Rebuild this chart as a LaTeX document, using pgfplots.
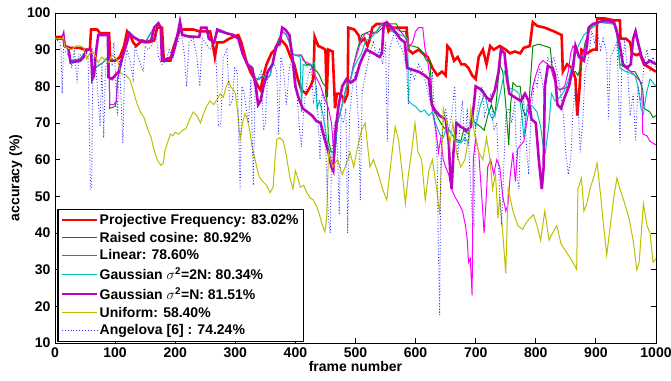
\documentclass[border=0pt]{standalone}
\usepackage{pgfplots}
\pgfplotsset{compat=1.18}
\usepackage{fontspec}
\setmainfont{Liberation Sans}

\definecolor{cRed}{rgb}{1,0,0}
\definecolor{cGreen}{rgb}{0,0.55,0}
\definecolor{cMag}{rgb}{1,0,1}
\definecolor{cCyan}{rgb}{0,0.75,0.75}
\definecolor{cPurp}{rgb}{0.75,0,0.75}
\definecolor{cYel}{rgb}{0.75,0.75,0}
\definecolor{cBlue}{rgb}{0,0,1}

\newcommand{\bigbf}{\bfseries\fontsize{14bp}{16bp}\selectfont}

\begin{document}
\begin{tikzpicture}
\begin{axis}[
  name=ax,
  scale only axis,
  width=601bp, height=330bp,
  xmin=0, xmax=1000, ymin=10, ymax=100,
  xtick={0,100,...,1000}, ytick={10,20,...,100},
  tick align=inside,
  major tick length=5bp,
  axis line style={line width=0.9bp},
  every tick/.style={black, line width=0.9bp},
  /pgf/number format/assume math mode=true,
  /pgf/number format/set thousands separator={},
  ticklabel style={font=\bigbf},
  xticklabel style={yshift=-1bp},
  yticklabel style={xshift=-1bp},
  xlabel={frame number}, ylabel={accuracy (\%)},
  label style={font=\bigbf},
  xlabel style={yshift=3bp},
  ylabel style={yshift=-2bp},
  legend cell align=left,
  legend style={at={(0.004,0.003)}, anchor=south west, draw=black,
    line width=1.1bp, fill=white, font=\bigbf, inner xsep=3bp, inner ysep=3bp,
    row sep=2.2bp},
  legend image code/.code={\draw[#1] (0bp,0bp) -- (35bp,0bp);},
]

% Projective Frequency
\addplot[cRed, line width=2.6bp, forget plot] coordinates {
(0,93.5) (14,93.5) (16,91) (25,90.5) (40,90.5) (50,90) (58,90) (60,95.5) (70,95.5) (75,94.5) (90,94.5)
(92,87) (100,87) (108,88) (115,91) (120,95) (125,94) (130,92) (135,91) (145,92.5) (155,92) (165,92.5)
(170,96) (178,96) (181,87) (192,87) (196,90) (202,93) (208,95.5) (230,95.5) (240,95) (258,95) (262,92)
(266,88) (270,92) (280,92) (290,93) (297,93.5) (305,94) (310,92) (318,87) (325,84) (332,82) (338,80)
(342,79) (347,83) (352,86) (360,89) (366,90) (374,93) (380,92) (385,91) (392,88) (398,86) (404,82)
(410,79) (418,78) (425,80) (430,82) (432,93.5) (438,91) (445,90.5) (450,90) (452,77) (455,90) (462,89.5)
(466,74) (469,78) (475,78) (482,76) (487,78) (488,96) (498,95.5) (505,94) (508,92) (515,93) (520,91)
(524,93) (528,96) (535,97) (552,97) (555,95) (560,96) (570,96) (585,96) (588,90) (595,89) (605,90)
(612,89) (620,88) (628,85) (636,83) (644,84) (650,83) (653,91) (658,90) (664,87) (670,88) (676,86)
(682,86) (688,85) (694,83) (700,82) (705,88) (712,90) (718,86) (724,91) (730,90) (740,91) (750,90)
(757,89) (765,89.5) (774,89) (780,90.5) (790,91) (795,97.5) (802,96.5) (815,96) (830,95) (843,94)
(845,84) (852,86) (860,85) (866,82) (869,72) (873,80) (876,90) (885,89) (895,90) (901,90) (902,98.5)
(915,98.5) (930,98) (940,98) (941,93) (950,93) (957,92) (960,89) (968,88.5) (973,89) (980,86)
(990,85) (1000,84)
};

% Raised cosine
\addplot[cGreen, line width=1bp, forget plot] coordinates {
(0,93) (12,93) (14,94) (16,91) (22,90.5) (26,87) (42,87.5) (53,90) (60,90) (62,82) (66,85) (80,86.5)
(88,88) (90,88) (91,74) (100,74.5) (102,76) (104,82) (110,86) (118,91) (124,94.5) (130,93.5) (150,92)
(165,96) (172,97) (176,96) (178,87) (195,88) (205,95) (208,97) (212,94) (240,93.5) (243,96) (252,96)
(256,93) (265,92) (270,95) (297,94) (305,93) (312,89) (320,86) (328,84.5) (334,82) (340,82) (346,83)
(352,82) (358,83) (364,88) (370,91) (378,95) (385,94) (390,92) (394,89) (400,88.5) (410,88.5)
(418,86) (425,86) (430,85) (436,84) (440,83) (445,81) (450,80) (453,75) (455,65) (460,62) (466,62)
(470,70) (478,75) (485,80) (492,82) (497,86) (503,90) (510,94) (517,94.5) (524,95) (535,94.5)
(545,96) (555,97) (568,97) (575,95) (583,95) (587,91) (595,91) (605,90.5) (612,89) (618,87) (624,87)
(628,74) (635,72) (642,70) (648,68.5) (652,69) (660,67) (668,65.5) (675,65) (680,68) (688,67)
(692,71) (700,70) (708,69) (714,68) (720,72) (726,75) (732,72) (740,86) (745,84) (750,75) (755,64)
(758,75) (762,81) (768,80) (774,80) (778,74) (782,72) (788,74) (795,91) (805,91.5) (815,91)
(824,90.5) (828,84) (834,80) (840,79) (848,79.5) (856,80) (860,84) (866,84) (870,83) (876,86)
(882,92) (890,95.5) (905,97.5) (930,97) (935,94) (940,86) (950,85) (958,84) (965,84) (972,82)
(978,79) (980,74) (990,73) (995,71.5) (1000,72)
};

% Linear
\addplot[cMag, line width=1bp, forget plot] coordinates {
(0,93) (12,93) (14,94) (16,91) (22,90.5) (26,87) (42,87.5) (53,90) (60,90) (62,82) (66,85) (80,86.5)
(88,88) (90,88) (91,75) (98,75) (102,76) (104,82) (110,86) (118,91) (124,94.5) (130,93.5) (150,92)
(165,96) (172,97) (176,96) (178,87) (195,88) (205,95) (208,97) (212,94) (240,93.5) (243,96) (252,96)
(256,93) (265,92) (270,95) (297,94) (305,93) (312,89) (320,86) (328,84.5) (334,82) (340,82) (346,83)
(352,82) (358,83) (364,88) (370,91) (378,95) (385,94) (390,92) (394,89) (400,88.5) (410,88.5)
(413,87) (425,86) (430,84) (436,82) (442,80) (448,77) (455,74) (460,70) (463,64) (466,62) (470,70)
(478,75) (485,80) (492,82) (497,86) (503,89) (510,93) (517,94.5) (525,94) (535,95) (545,97) (555,97)
(565,96) (575,95) (580,94) (587,92) (590,91) (595,92) (600,95) (605,96) (612,96) (615,91) (620,87)
(624,82) (628,73) (634,68) (638,62) (642,66) (646,60) (650,58) (655,56) (660,52) (665,50) (672,48)
(678,46) (683,42) (686,38) (688,32) (691,33) (694,23) (696,60) (700,66) (705,62) (710,50) (714,40)
(717,48) (720,58) (725,60) (730,56) (735,60) (740,58) (745,50) (750,46) (754,48) (757,55) (762,62)
(766,54) (770,63) (775,64) (780,65) (785,70) (790,75) (795,80) (800,83) (806,86) (812,87) (820,86)
(825,85) (830,82) (835,80) (840,79) (848,80) (854,84) (858,89) (862,91) (866,90) (872,88) (880,89)
(888,96) (895,97) (905,97.5) (930,97.5) (935,95) (940,91) (945,86) (952,85) (958,84) (965,83)
(970,82) (976,81) (978,67) (985,66.5) (990,65) (1000,64)
};

% Gaussian, sigma^2 = 2N
\addplot[cCyan, line width=1bp, forget plot] coordinates {
(0,93) (12,93) (14,94) (16,91) (22,90.5) (26,87) (42,87.5) (53,90) (60,90) (62,82) (66,85) (80,86.5)
(88,88) (89,82.5) (95,82) (106,84) (112,88) (118,91) (124,94.5) (130,93.5) (150,92) (165,96)
(172,97) (176,96) (178,87) (195,88) (205,95) (208,97) (212,94) (240,93.5) (243,96) (252,96) (256,93)
(265,92) (270,95) (297,94) (305,93) (312,89) (320,86) (328,84.5) (334,82) (340,82) (346,83) (352,82)
(358,83) (364,88) (370,91) (378,95) (385,94) (390,92) (394,89) (400,88.5) (408,88) (410,73)
(413,86) (420,85.5) (428,86) (432,86.5) (436,74) (440,76) (445,73) (450,68) (455,63) (460,62)
(466,62) (470,70) (478,75) (485,80) (492,82) (497,85) (503,87) (510,89) (517,92.5) (525,93) (535,95)
(543,97) (555,97) (560,95) (575,94) (583,93.5) (587,93) (588,76) (595,75) (600,74.5) (608,73)
(615,73.5) (622,72) (628,73) (633,70) (640,67) (646,66) (652,69) (660,67) (668,65) (675,64.5)
(682,66) (688,64.5) (692,71) (696,71.5) (700,69) (708,75) (715,78) (722,73) (728,71) (735,74)
(742,79) (748,84) (752,85) (756,79.5) (765,79) (772,78) (777,72) (780,66) (786,75) (795,74.5)
(802,73) (808,69) (812,64) (816,62) (822,70) (826,78) (832,76) (840,77) (848,79) (855,82) (862,87)
(868,90) (873,91.8) (880,94) (890,95.5) (905,97.5) (930,97) (935,94) (940,85) (950,84) (958,83.5)
(965,83) (970,80) (975,74) (979,72.5) (984,78) (990,82) (1000,80)
};

% Gaussian, sigma^2 = N
\addplot[cPurp, line width=2.6bp, forget plot] coordinates {
(0,93) (12,93) (14,94) (16,91) (22,90.5) (26,86.5) (42,87) (48,88) (53,90) (60,90) (62,82) (65,83)
(68,89) (72,94) (88,94) (89,82.5) (95,82) (100,83) (106,84) (112,88) (118,91) (124,94.5) (130,93.5)
(140,92.5) (150,92) (160,92.5) (165,96) (172,97.2) (176,96) (178,87) (195,88) (200,91) (205,95)
(208,97.6) (212,94) (225,93.5) (240,93.5) (243,96) (252,96) (256,93) (265,92) (270,95.5) (285,94.5)
(297,94) (305,93) (312,89) (320,86) (328,85) (334,80) (338,75) (342,76) (347,80) (354,84) (362,86)
(368,91) (374,91.5) (378,96) (383,95.5) (390,94) (395,88) (400,80) (405,77) (412,74) (420,73)
(428,72) (435,70.5) (442,70) (448,66) (455,62) (460,58) (463,57) (466,67) (472,75) (478,80) (485,82)
(492,81) (500,82) (507,86) (512,88) (518,90) (530,89) (540,88) (544,89) (547,97) (552,97.5) (560,96)
(568,94.5) (574,93) (582,92) (586,85) (595,84.5) (605,84) (615,83) (622,82) (627,75) (632,73.5)
(640,72) (650,71) (655,65) (658,55) (660,52) (663,62) (668,70) (675,69) (685,68) (692,69) (697,75)
(700,80) (710,79) (718,77) (725,76) (732,79) (738,84) (742,90) (748,89) (752,82) (756,78) (765,77)
(775,76) (782,78) (788,76) (793,71) (800,70) (805,60) (810,52) (813,58) (815,80) (820,85.5)
(828,85) (832,83) (836,75) (842,74) (848,77) (855,80) (862,85) (866,91) (872,88) (880,87) (885,91)
(888,96) (895,97) (905,97.5) (915,98) (930,97.5) (935,95) (940,91) (945,86) (952,85) (958,86)
(962,93) (966,95) (970,92) (976,88) (982,86) (990,87) (1000,86)
};

% Uniform
\addplot[cYel, line width=1bp, forget plot] coordinates {
(0,93) (12,93) (14,93.5) (16,91) (20,90.5) (28,90) (35,91) (42,91) (48,90.5) (53,87.5) (58,89)
(63,89.5) (68,88) (72,86.5) (78,88) (84,87) (90,86.5) (94,88.5) (100,88) (104,87) (110,83.5)
(118,83) (124,82) (130,79) (136,75.5) (142,73) (148,71.5) (155,68) (160,66) (165,62.5) (170,60)
(176,58.5) (180,59) (183,62.5) (188,65) (192,67) (196,66.5) (200,67.5) (206,67) (212,68) (218,68.5)
(224,71) (230,73) (236,72) (242,70) (247,72.5) (252,74.5) (258,76) (264,75) (270,76.5) (275,78)
(280,77) (285,80) (289,81.5) (292,80) (297,79) (300,78) (304,73) (308,65.5) (312,70) (316,72.5)
(320,71) (324,68) (328,63.5) (333,60) (337,57) (341,55) (346,54) (352,53) (358,51) (363,52.5)
(366,60) (369,65.5) (374,66) (380,65) (385,61) (391,55) (396,52) (400,57) (404,55) (408,52.5)
(414,53) (419,51) (425,49.5) (430,49) (436,47) (440,45) (445,42) (449,40.3) (452,44) (455,62)
(462,58) (470,60) (478,56) (485,59) (491,62) (497,58) (503,63) (510,68) (516,70) (520,64) (524,58)
(530,60) (538,56) (545,52) (552,49) (558,58) (566,69) (572,65) (578,56) (583,48) (588,56) (594,63)
(599,70) (604,62) (610,60) (616,49) (622,57) (628,60) (635,52) (640,45) (646,74) (652,70) (657,64)
(662,70) (668,62) (675,58) (682,60) (688,66) (692,74) (698,67) (705,62) (712,60) (718,66) (724,60)
(728,52) (733,56) (737,44) (740,50) (745,40) (750,29) (754,52) (762,46) (770,42) (778,41) (785,43)
(790,44) (796,45) (802,42) (808,38) (815,46) (822,38) (828,40) (835,42) (842,37) (850,35) (858,33)
(865,31) (868,30) (870,52) (876,55) (880,46) (885,48) (890,52) (896,55) (902,59) (908,50) (914,40)
(918,34) (924,42) (930,50) (935,55) (940,52) (948,48) (955,44) (962,38) (968,30) (972,32) (979,48)
(985,42) (990,40) (995,32) (1000,33)
};

% Angelova [6]
\addplot[cBlue!80, line width=0.9bp, dotted, forget plot] coordinates {
(0,93) (8,92) (10,90) (12,78) (14,90) (20,89) (25,88) (28,85) (32,90) (37,81) (40,89) (45,88)
(50,90) (55,88) (59,52) (61,52) (63,88) (68,86) (75,69) (78,86) (81,66) (84,85) (90,88) (95,86)
(98,92) (104,72) (107,88) (113,64.5) (116,86) (120,90) (125,87) (130,82) (133,91) (138,88) (147,84)
(150,91) (155,90) (160,91) (168,95) (172,88) (178,86) (185,87) (190,90) (195,88) (200,93) (205,92)
(210,95) (215,89) (219,80) (223,92) (230,93) (236,88) (241,80) (245,93) (250,92) (258,90) (263,92)
(268,88) (272,69) (276,70) (280,88) (286,90) (291,75) (295,76) (299,85) (303,84) (308,52) (311,80)
(315,78) (318,74) (322,70) (326,82) (330,53) (333,80) (338,82) (343,84) (347,68) (350,70) (354,84)
(360,86) (365,86) (369,84) (372,67) (376,88) (380,85) (385,75) (390,85) (395,88) (400,84) (406,70)
(410,63.5) (414,74) (420,82) (426,85) (430,76) (435,80) (441,60) (444,78) (448,76) (452,55)
(455,44) (458,40) (460,60) (463,68) (466,70) (470,63) (473,45) (476,72) (480,70) (484,74) (487,40)
(490,72) (495,80) (500,84) (505,70) (508,49) (511,78) (515,82) (520,86) (525,90) (530,92) (535,88)
(540,90) (545,86) (550,92) (553,65) (556,90) (560,92) (565,95) (570,92) (578,90) (585,85) (588,75)
(592,84) (598,82) (605,86) (612,84) (618,80) (624,76) (628,84) (632,70) (636,60) (638,35)
(640,17.6) (642,60) (646,70) (650,74) (655,68) (660,72) (665,80) (670,60) (674,70) (678,76)
(682,64) (686,74) (690,58) (694,45) (697,42.6) (700,70) (705,76) (710,80) (715,72) (720,75)
(725,78) (730,68) (735,70) (740,50) (743,42) (746,55) (750,72) (755,74) (760,70) (765,76) (769,55)
(772,52) (775,70) (780,77) (785,62) (788,56) (792,72) (798,82) (802,80) (806,85) (810,82) (815,76)
(820,88) (826,86) (830,88) (835,84) (840,80) (846,72) (850,62) (854,56) (858,60) (862,74) (866,80)
(870,76) (874,62) (878,70) (882,84) (888,88) (893,95) (898,92) (903,94) (908,90) (912,93) (918,89)
(921,71) (924,88) (930,90) (935,92) (940,64.5) (943,85) (948,92) (953,84) (957,72) (962,78)
(966,65) (970,80) (975,76) (980,86) (985,90) (990,84) (995,88) (1000,85)
};

% legend samples, drawn thinner than the curves
\addlegendimage{cRed, line width=1.8bp}
\addlegendentry{Projective Frequency: 83.02\%}
\addlegendimage{cGreen, line width=0.9bp}
\addlegendentry{Raised cosine: 80.92\%}
\addlegendimage{cMag, line width=0.9bp}
\addlegendentry{Linear: 78.60\%}
\addlegendimage{cCyan, line width=0.9bp}
\addlegendentry{Gaussian $\sigma^{\mathbf{2}}$=2N: 80.34\%}
\addlegendimage{cPurp, line width=1.8bp}
\addlegendentry{Gaussian $\sigma^{\mathbf{2}}$=N: 81.51\%}
\addlegendimage{cYel, line width=0.9bp}
\addlegendentry{Uniform: 58.40\%}
\addlegendimage{cBlue!80, line width=0.9bp, dotted}
\addlegendentry{Angelova [6] : 74.24\%}

\end{axis}
\pgfresetboundingbox
\path ([shift={(-55bp,-38bp)}]ax.south west) rectangle ([shift={(15bp,13bp)}]ax.north east);
\end{tikzpicture}
\end{document}
